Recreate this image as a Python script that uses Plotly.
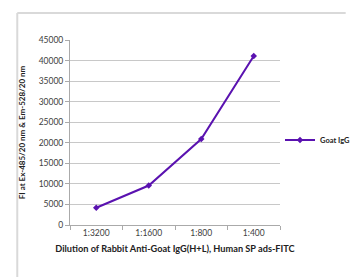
import plotly.graph_objects as go

categories = ["1:3200", "1:1600", "1:800", "1:400"]
goat_igg = [4200, 9600, 20900, 41100]
series_name = "Goat IgG"
y_ticks = [0, 5000, 10000, 15000, 20000, 25000, 30000, 35000, 40000, 45000]

W, H = 360, 277
L, R, T, B = 62, 71, 32, 60
pw, ph = W - L - R, H - T - B

def px_x(p):
    return (p - L) / pw

def px_y(p):
    return (H - B - p) / ph

fig = go.Figure()
fig.add_trace(go.Scatter(
    x=categories, y=goat_igg, name=series_name, mode="lines+markers",
    line=dict(color="#5a12b0", width=2),
    marker=dict(symbol="diamond", size=5, color="#5a12b0"),
))

font_family = "Lato, Open Sans, sans-serif"
fig.update_layout(
    width=W, height=H,
    margin=dict(l=L, r=R, t=T, b=B),
    paper_bgcolor="white", plot_bgcolor="white",
    font=dict(family=font_family, size=8.5, color="#404040"),
    showlegend=True,
    legend=dict(x=px_x(289), y=px_y(132), xanchor="left", yanchor="middle",
                font=dict(size=7.5, color="#222222", weight="bold"),
                bgcolor="rgba(0,0,0,0)"),
    xaxis=dict(
        type="category", tickson="boundaries", ticks="outside", ticklen=4,
        tickcolor="#aaaaaa", showline=True, linecolor="#aaaaaa", linewidth=1,
        showgrid=False, tickfont=dict(size=8.5, color="#404040"),
        title=dict(text="Dilution of Rabbit Anti-Goat IgG(H+L), Human SP ads-FITC",
                   font=dict(size=9.2, color="#222222", weight="bold"), standoff=8),
        range=[-0.5, 3.5],
    ),
    yaxis=dict(
        range=[0, 45000], tickvals=y_ticks, ticktext=[str(v) for v in y_ticks],
        ticks="outside", ticklen=4, tickcolor="#aaaaaa",
        showline=True, linecolor="#aaaaaa", linewidth=1,
        showgrid=True, gridcolor="#c8c8c8", gridwidth=1,
        tickfont=dict(size=8.5, color="#404040"), zeroline=False,
        title=dict(text="FI at Ex-485/20 nm &amp; Em-528/20 nm",
                   font=dict(size=8, color="#222222", weight="bold"), standoff=11),
    ),
    shapes=[
        dict(type="line", xref="paper", yref="paper", x0=px_x(5), x1=px_x(360),
             y0=px_y(5), y1=px_y(5), line=dict(color="#d9d9d9", width=2)),
        dict(type="line", xref="paper", yref="paper", x0=px_x(5), x1=px_x(5),
             y0=px_y(5), y1=px_y(277), line=dict(color="#d9d9d9", width=2)),
    ],
)

fig.write_html("out.html")
